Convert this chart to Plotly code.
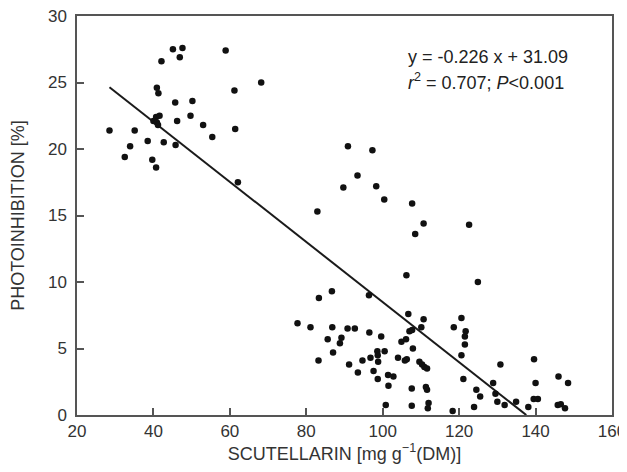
import plotly.graph_objects as go

scutellarin = [
    28.5, 32.5, 33.9, 35.1, 38.5, 39.7, 40.7, 40.9, 41.3, 40.7, 41.6, 40.0, 40.9, 41.2,
    42.1, 42.7, 45.1, 46.9, 47.6, 45.7, 46.2, 45.8, 49.7, 50.2, 53.0, 55.4, 58.9, 61.2,
    61.4, 62.1, 68.2, 82.9,
    90.9, 97.3, 93.4, 89.7, 98.3, 100.4, 107.7, 110.7, 108.5, 122.6, 106.2, 124.9,
    83.3, 86.7, 96.4, 106.7, 110.7, 120.6,
    77.7, 81.1, 86.8, 85.6, 89.2, 88.8, 87.0, 83.2, 90.8, 92.7, 96.5, 99.6, 98.6, 98.7,
    100.5, 98.8, 96.8, 94.7, 91.2, 93.5, 97.6, 98.7, 101.4, 102.8, 101.5, 100.8, 104.0,
    105.8, 106.3, 104.9, 106.1, 107.9, 107.0, 107.7, 110.1, 109.6, 110.3, 110.9, 111.6,
    107.6, 111.3, 111.6, 107.6, 112.0, 111.8, 118.3, 118.6, 121.7, 121.5, 121.5, 120.6,
    121.1, 124.5, 125.5, 123.9, 128.9, 130.8, 129.5, 130.0, 131.9, 134.9, 138.1, 139.5,
    140.6, 140.0, 139.6, 146.0, 148.5, 145.8, 146.6, 147.7,
]
photoinhibition = [
    21.4, 19.4, 20.2, 21.4, 20.6, 19.2, 18.6, 24.6, 24.2, 22.4, 22.5, 22.1, 22.0, 21.8,
    26.6, 20.5, 27.5, 26.9, 27.6, 23.5, 22.1, 20.3, 22.5, 23.6, 21.8, 20.9, 27.4, 24.4,
    21.5, 17.5, 25.0, 15.3,
    20.2, 19.9, 18.0, 17.1, 17.2, 16.2, 15.9, 14.4, 13.6, 14.3, 10.5, 10.0,
    8.8, 9.3, 9.0, 7.6, 7.2, 7.3,
    6.9, 6.6, 6.6, 5.7, 5.8, 5.4, 4.7, 4.1, 6.5, 6.5, 6.2, 5.9, 4.8, 4.5,
    4.8, 4.0, 4.3, 4.1, 3.8, 3.2, 3.3, 2.7, 3.0, 2.9, 2.2, 0.75, 4.3,
    4.1, 4.2, 5.5, 5.7, 5.0, 6.3, 6.4, 6.6, 4.0, 3.8, 3.6, 3.5,
    2.0, 2.1, 1.9, 0.7, 0.9, 0.5, 0.3, 6.6, 6.3, 5.9, 5.3, 4.5,
    2.7, 1.9, 1.4, 0.6, 2.4, 3.8, 1.6, 1.0, 0.75, 1.0, 0.6, 1.2,
    1.2, 2.4, 4.2, 2.9, 2.4, 0.75, 0.8, 0.5,
]

slope = -0.226
intercept = 31.09
fit_x = [28.5, 137.57]
fit_y = [slope * x + intercept for x in fit_x]

x_ticks = [20, 40, 60, 80, 100, 120, 140, 160]
y_ticks = [0, 5, 10, 15, 20, 25, 30]

fig = go.Figure()
fig.add_trace(go.Scatter(x=fit_x, y=fit_y, mode="lines",
                         line=dict(color="#1a1a1a", width=2), showlegend=False))
fig.add_trace(go.Scatter(x=scutellarin, y=photoinhibition, mode="markers",
                         marker=dict(color="#111111", size=6.5), showlegend=False))

fam = "Liberation Sans, Arial, sans-serif"
tick_font = dict(family=fam, size=17, color="#333333")
title_font = dict(family=fam, size=18, color="#333333")
ann_font = dict(family=fam, size=18, color="#222222")
axis_common = dict(showgrid=False, zeroline=False, showline=True, linecolor="#555555",
                   linewidth=1.5, mirror=True, ticks="inside", ticklen=7,
                   tickcolor="#555555", tickwidth=1.5, tickfont=tick_font,
                   automargin=False, ticklabeloverflow="allow")

# page body has an 8px default margin, so the figure is sized/offset to compensate
fig.update_layout(
    width=619, height=456,
    margin=dict(l=69, r=15, t=8, b=49),
    plot_bgcolor="white", paper_bgcolor="white",
    font=tick_font,
    xaxis=dict(range=[20, 160], tickvals=x_ticks,
               title=dict(text="SCUTELLARIN [mg g<sup>−1</sup>(DM)]", font=title_font, standoff=3),
               **axis_common),
    yaxis=dict(range=[0, 30], tickvals=y_ticks, ticklabelstandoff=5,
               title=dict(text="PHOTOINHIBITION [%]", font=title_font, standoff=22),
               **axis_common),
)
fig.add_annotation(x=0.615, y=0.897, xref="paper", yref="paper", xanchor="left",
                   yanchor="middle", text="y = -0.226 x + 31.09", showarrow=False,
                   font=ann_font)
fig.add_annotation(x=0.615, y=0.835, xref="paper", yref="paper", xanchor="left",
                   yanchor="middle",
                   text="<i>r</i><sup>2</sup> = 0.707; <i>P</i><0.001", showarrow=False,
                   font=ann_font)
fig.write_html("out.html")
